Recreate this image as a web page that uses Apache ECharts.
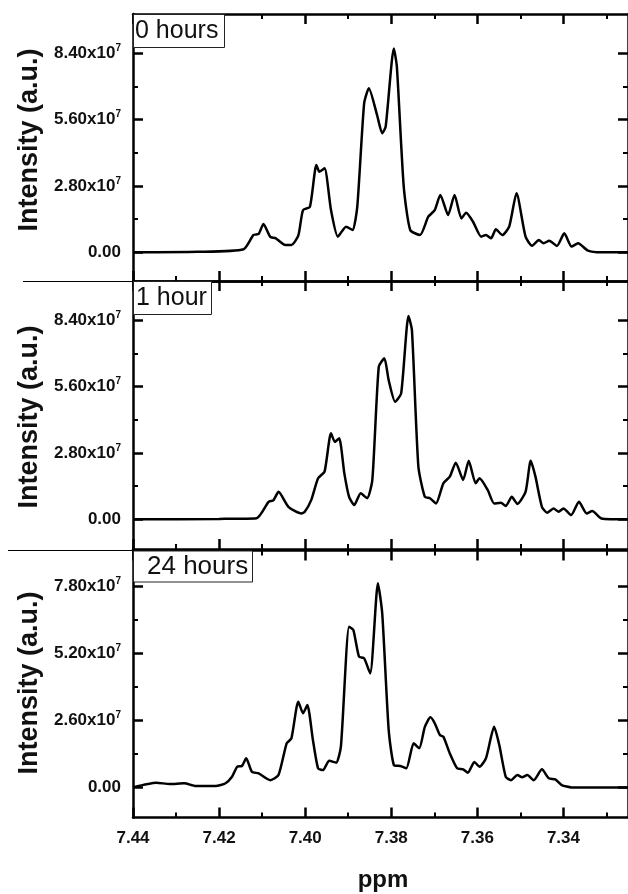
<!DOCTYPE html>
<html>
<head>
<meta charset="utf-8">
<script src="https://cdn.jsdelivr.net/npm/echarts@6/dist/echarts.min.js"></script>
<style>
html,body{margin:0;padding:0;background:#fff;}
#c{width:628px;height:894px;}
</style>
</head>
<body>
<div id="c"></div>
<script>
// ---------------- DATA (intensity in units of 1e7) ----------------
const ppm0h = [7.4400, 7.4250, 7.4143, 7.4120, 7.4108, 7.4097, 7.4081, 7.4069, 7.4046, 7.4032, 7.4016, 7.4005, 7.3989, 7.3974, 7.3967, 7.3955, 7.3940, 7.3924, 7.3905, 7.3890, 7.3879, 7.3863, 7.3852, 7.3833, 7.3821, 7.3813, 7.3794, 7.3787, 7.3771, 7.3756, 7.3733, 7.3714, 7.3699, 7.3686, 7.3668, 7.3653, 7.3637, 7.3626, 7.3610, 7.3591, 7.3580, 7.3568, 7.3557, 7.3542, 7.3526, 7.3509, 7.3488, 7.3473, 7.3457, 7.3446, 7.3433, 7.3415, 7.3398, 7.3381, 7.3366, 7.3343, 7.3312, 7.3250];
const int0h = [0.00, 0.02, 0.13, 0.73, 0.78, 1.19, 0.65, 0.60, 0.31, 0.31, 0.70, 1.78, 1.92, 3.68, 3.40, 3.54, 1.78, 0.66, 1.08, 0.94, 1.92, 6.28, 6.92, 5.79, 5.02, 5.30, 8.60, 7.83, 2.77, 0.94, 0.73, 1.50, 1.78, 2.42, 1.57, 2.42, 1.43, 1.67, 1.29, 0.66, 0.73, 0.59, 0.97, 0.73, 1.08, 2.49, 0.66, 0.28, 0.52, 0.38, 0.49, 0.27, 0.80, 0.24, 0.38, 0.07, 0.00, 0.00];

const ppm1h = [7.4400, 7.4200, 7.4113, 7.4085, 7.4074, 7.4062, 7.4039, 7.4009, 7.4001, 7.3986, 7.3970, 7.3955, 7.3940, 7.3931, 7.3921, 7.3909, 7.3898, 7.3886, 7.3871, 7.3856, 7.3844, 7.3829, 7.3816, 7.3806, 7.3791, 7.3777, 7.3760, 7.3752, 7.3737, 7.3722, 7.3710, 7.3696, 7.3679, 7.3664, 7.3650, 7.3633, 7.3620, 7.3604, 7.3595, 7.3576, 7.3561, 7.3545, 7.3534, 7.3520, 7.3507, 7.3488, 7.3476, 7.3465, 7.3450, 7.3438, 7.3423, 7.3411, 7.3400, 7.3382, 7.3364, 7.3346, 7.3333, 7.3312, 7.3250];
const int1h = [0.00, 0.02, 0.05, 0.74, 0.80, 1.16, 0.53, 0.25, 0.32, 0.81, 1.73, 2.01, 3.63, 3.27, 3.42, 1.94, 0.95, 0.60, 1.10, 0.89, 1.66, 6.44, 6.79, 5.87, 4.96, 5.31, 8.57, 7.98, 2.22, 0.95, 0.89, 0.67, 1.52, 1.80, 2.39, 1.66, 2.47, 1.52, 1.73, 1.24, 0.67, 0.70, 0.56, 0.95, 0.65, 1.16, 2.47, 1.80, 0.53, 0.28, 0.46, 0.32, 0.46, 0.18, 0.74, 0.25, 0.35, 0.04, 0.00];

const ppm24h = [7.4400, 7.4346, 7.4315, 7.4281, 7.4254, 7.4208, 7.4185, 7.4170, 7.4158, 7.4147, 7.4137, 7.4124, 7.4108, 7.4081, 7.4062, 7.4043, 7.4032, 7.4016, 7.4005, 7.3995, 7.3982, 7.3970, 7.3959, 7.3944, 7.3928, 7.3917, 7.3898, 7.3888, 7.3875, 7.3863, 7.3849, 7.3831, 7.3821, 7.3806, 7.3794, 7.3779, 7.3765, 7.3748, 7.3735, 7.3722, 7.3709, 7.3699, 7.3687, 7.3679, 7.3664, 7.3647, 7.3633, 7.3622, 7.3607, 7.3595, 7.3580, 7.3561, 7.3549, 7.3534, 7.3522, 7.3507, 7.3496, 7.3484, 7.3469, 7.3450, 7.3434, 7.3419, 7.3404, 7.3381, 7.3250];
const int24h = [0.00, 0.18, 0.13, 0.16, 0.05, 0.05, 0.16, 0.41, 0.80, 0.83, 1.13, 0.61, 0.54, 0.28, 0.48, 1.71, 1.90, 3.33, 2.88, 3.20, 1.84, 0.74, 0.67, 1.03, 0.96, 1.58, 6.24, 6.11, 5.08, 5.01, 4.43, 7.93, 6.76, 2.23, 0.87, 0.83, 0.74, 1.71, 1.52, 2.35, 2.72, 2.49, 2.03, 1.97, 1.32, 0.74, 0.70, 0.57, 0.99, 0.80, 1.13, 2.35, 1.64, 0.41, 0.28, 0.48, 0.39, 0.48, 0.28, 0.70, 0.35, 0.31, 0.09, 0.00, 0.00];

const panelLabels = ['0 hours', '1 hour', '24 hours'];
const xMajorTicks = [7.44, 7.42, 7.40, 7.38, 7.36, 7.34];
const xMinorTicks = [7.43, 7.41, 7.39, 7.37, 7.35, 7.33];
const yMajor01 = [0, 2.8, 5.6, 8.4];
const yMinor01 = [1.4, 4.2, 7.0];
const yMajor24 = [0, 2.6, 5.2, 7.8];
const yMinor24 = [1.3, 3.9, 6.5];
const xTitle = 'ppm';
const yTitle = 'Intensity (a.u.)';

// ---------------- LAYOUT ----------------
const FONT = '"Liberation Sans", Arial, Helvetica, sans-serif';
const GL = 133, GW = 500.6;
const panels = [
  {ppm: ppm0h, val: int0h, top: 14, height: 267, ymin: -1.21, ymax: 10.05, major: yMajor01, minor: yMinor01, tc: 140, pad: [3, 6, 3, 2], fs: 25},
  {ppm: ppm1h, val: int1h, top: 281, height: 268, ymin: -1.25, ymax: 10.05, major: yMajor01, minor: yMinor01, tc: 417, pad: [3, 5, 3, 3], fs: 25},
  {ppm: ppm24h, val: int24h, top: 550.5, height: 267, ymin: -1.17, ymax: 9.2, major: yMajor24, minor: yMinor24, tc: 683, pad: [2, 5, 2, 14], fs: 26}
];

const LW = 2.5;
const grids = [], xAxes = [], yAxes = [], series = [], titles = [];

panels.forEach((p, i) => {
  grids.push({left: GL, top: p.top, width: GW, height: p.height, containLabel: false});
  const xBase = {gridIndex: i, type: 'value', inverse: true, min: 7.325, max: 7.44, splitLine: {show: false}, axisPointer: {show: false}};
  const yBase = {gridIndex: i, type: 'value', min: p.ymin, max: p.ymax, splitLine: {show: false}, axisPointer: {show: false}};
  ['bottom', 'top'].forEach(pos => {
    xAxes.push(Object.assign({}, xBase, {
      position: pos,
      axisLine: {show: true, onZero: false, lineStyle: {color: '#000', width: LW}},
      axisTick: {show: true, inside: true, length: 10, lineStyle: {color: '#000', width: LW}, customValues: xMajorTicks},
      axisLabel: (i === 2 && pos === 'bottom') ? {
        show: true, customValues: xMajorTicks, margin: 12, color: '#111',
        fontFamily: FONT, fontWeight: 'bold', fontSize: 17,
        formatter: v => v.toFixed(2)
      } : {show: false}
    }));
    xAxes.push(Object.assign({}, xBase, {
      position: pos,
      axisLine: {show: false, onZero: false},
      axisTick: {show: true, inside: true, length: 5, lineStyle: {color: '#000', width: 2}, customValues: xMinorTicks},
      axisLabel: {show: false}
    }));
  });
  ['left', 'right'].forEach(pos => {
    yAxes.push(Object.assign({}, yBase, {
      position: pos,
      axisLine: {show: true, onZero: false, lineStyle: {color: '#000', width: LW}},
      axisTick: {show: true, inside: true, length: 10, lineStyle: {color: '#000', width: LW}, customValues: p.major},
      axisLabel: pos === 'left' ? {
        show: true, customValues: p.major, margin: 12,
        formatter: v => Math.abs(v) < 1e-9 ? '{b|0.00}' : '{b|' + v.toFixed(2) + 'x10}{s|7}',
        rich: {
          b: {fontFamily: FONT, fontWeight: 'bold', fontSize: 17, color: '#111', lineHeight: 20},
          s: {fontFamily: FONT, fontWeight: 'bold', fontSize: 10, color: '#111', verticalAlign: 'top', lineHeight: 12}
        }
      } : {show: false}
    }));
    yAxes.push(Object.assign({}, yBase, {
      position: pos,
      axisLine: {show: false, onZero: false},
      axisTick: {show: true, inside: true, length: 5, lineStyle: {color: '#000', width: 2}, customValues: p.minor},
      axisLabel: {show: false}
    }));
  });
  series.push({
    type: 'line',
    xAxisIndex: i * 4,
    yAxisIndex: i * 4,
    data: p.ppm.map((x, k) => [x, p.val[k]]),
    showSymbol: false,
    smooth: 0.2,
    clip: true,
    lineStyle: {color: '#000', width: 2.5},
    z: 3
  });
  titles.push({
    text: panelLabels[i],
    left: GL, top: p.top,
    padding: p.pad,
    borderColor: '#222', borderWidth: 1,
    backgroundColor: '#fff',
    textStyle: {fontFamily: FONT, fontWeight: 'normal', fontSize: p.fs, color: '#111', lineHeight: 28},
    z: 10
  });
});

const graphic = [
  {type: 'line', shape: {x1: 23, y1: 281.5, x2: GL, y2: 281.5}, style: {stroke: '#000', lineWidth: 1.2}},
  {type: 'line', shape: {x1: 8, y1: 550.5, x2: GL, y2: 550.5}, style: {stroke: '#000', lineWidth: 1.2}},
  {type: 'text', x: 383, y: 880, style: {text: xTitle, fontFamily: FONT, fontWeight: 'bold', fontSize: 24, fill: '#111', align: 'center', verticalAlign: 'middle'}}
];
panels.forEach(p => {
  graphic.push({type: 'text', x: 30, y: p.tc, rotation: Math.PI / 2,
    style: {text: yTitle, fontFamily: FONT, fontWeight: 'bold', fontSize: 27, fill: '#111', align: 'center', verticalAlign: 'middle'}});
});

const chart = echarts.init(document.getElementById('c'), null, {renderer: 'canvas'});
chart.setOption({
  animation: false,
  backgroundColor: '#fff',
  title: titles,
  grid: grids,
  xAxis: xAxes,
  yAxis: yAxes,
  series: series,
  graphic: graphic
});
</script>
</body>
</html>
